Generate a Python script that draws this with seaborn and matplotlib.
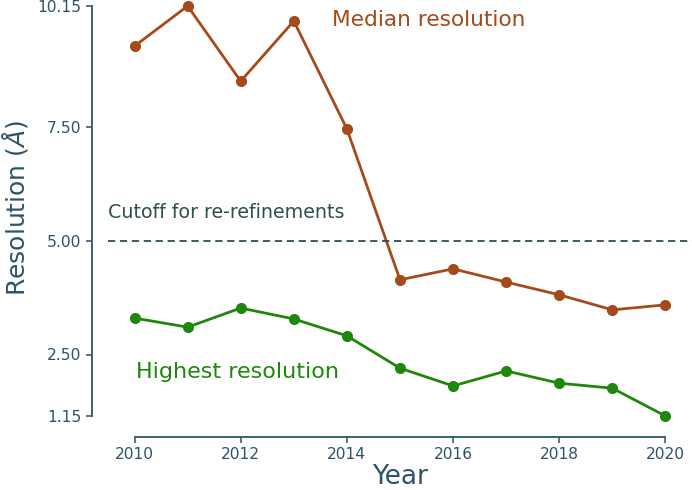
import matplotlib
matplotlib.use("Agg")
import matplotlib.pyplot as plt
import seaborn as sns
import pandas as pd

years = [2010, 2011, 2012, 2013, 2014, 2015, 2016, 2017, 2018, 2019, 2020]
median_res = [9.27, 10.15, 8.50, 9.82, 7.45, 4.14, 4.38, 4.09, 3.81, 3.48, 3.59]
highest_res = [3.30, 3.10, 3.52, 3.28, 2.91, 2.20, 1.81, 2.14, 1.87, 1.76, 1.15]
y_ticks = [1.15, 2.50, 5.00, 7.50, 10.15]
x_ticks = [2010, 2012, 2014, 2016, 2018, 2020]
cutoff = 5.0

sns.set_style("ticks")
plt.rcParams['font.family'] = ['DejaVu Sans']

BROWN = '#a44a1b'
GREEN = '#1f870b'
AXC = '#3a6272'
TXT = '#2c5468'

df = pd.DataFrame({'Year': years, 'Median': median_res, 'Highest': highest_res})

fig = plt.figure(figsize=(6.92, 4.90), dpi=100)
ax = fig.add_axes([108/692, (490-416)/490, (692-108)/692, 410/490])

sns.lineplot(data=df, x='Year', y='Median', ax=ax, color=BROWN, marker='o',
             markersize=8, markeredgewidth=0, linewidth=2.0, clip_on=False)
sns.lineplot(data=df, x='Year', y='Highest', ax=ax, color=GREEN, marker='o',
             markersize=8, markeredgewidth=0, linewidth=2.0, clip_on=False)

ax.axhline(cutoff, color='#2f4f4f', linestyle='--', linewidth=1.3, dashes=(4, 2.6))
ax.text(2009.5, 5.50, 'Cutoff for re-refinements', color='#2f4f4f', fontsize=13.7,
        ha='left', va='baseline')
ax.text(2013.72, 9.71, 'Median resolution', color=BROWN, fontsize=15.6,
        ha='left', va='baseline')
ax.text(2010.03, 1.98, 'Highest resolution', color=GREEN, fontsize=16,
        ha='left', va='baseline')

ax.set_xlim(2009.5, 2020.5)
ax.set_ylim(1.15, 10.15)
ax.set_yticks(y_ticks)
ax.set_yticklabels([f'{v:.2f}' for v in y_ticks])
ax.set_xticks(x_ticks)
ax.set_xticklabels([str(v) for v in x_ticks])

sns.despine(ax=ax)
ax.spines['left'].set_position(('outward', 11.5))
ax.spines['bottom'].set_position(('outward', 15))
ax.spines['left'].set_bounds(1.15, 10.15)
ax.spines['bottom'].set_bounds(2010, 2020)
for s in ['left', 'bottom']:
    ax.spines[s].set_color(AXC)
    ax.spines[s].set_linewidth(1.4)
ax.tick_params(axis='both', colors=AXC, labelcolor=TXT, labelsize=11.2, length=4, width=1.2)

ax.set_xlabel('')
ax.set_ylabel('')
fig.text(400/692, 1 - 484/490, 'Year', fontsize=19, color=TXT,
         ha='center', va='baseline')
fig.text(15/692, 1 - 208/490, r'Resolution ($\AA$)', fontsize=18, color=TXT,
         rotation=90, ha='center', va='center')

fig.savefig('out.png', dpi=100)
